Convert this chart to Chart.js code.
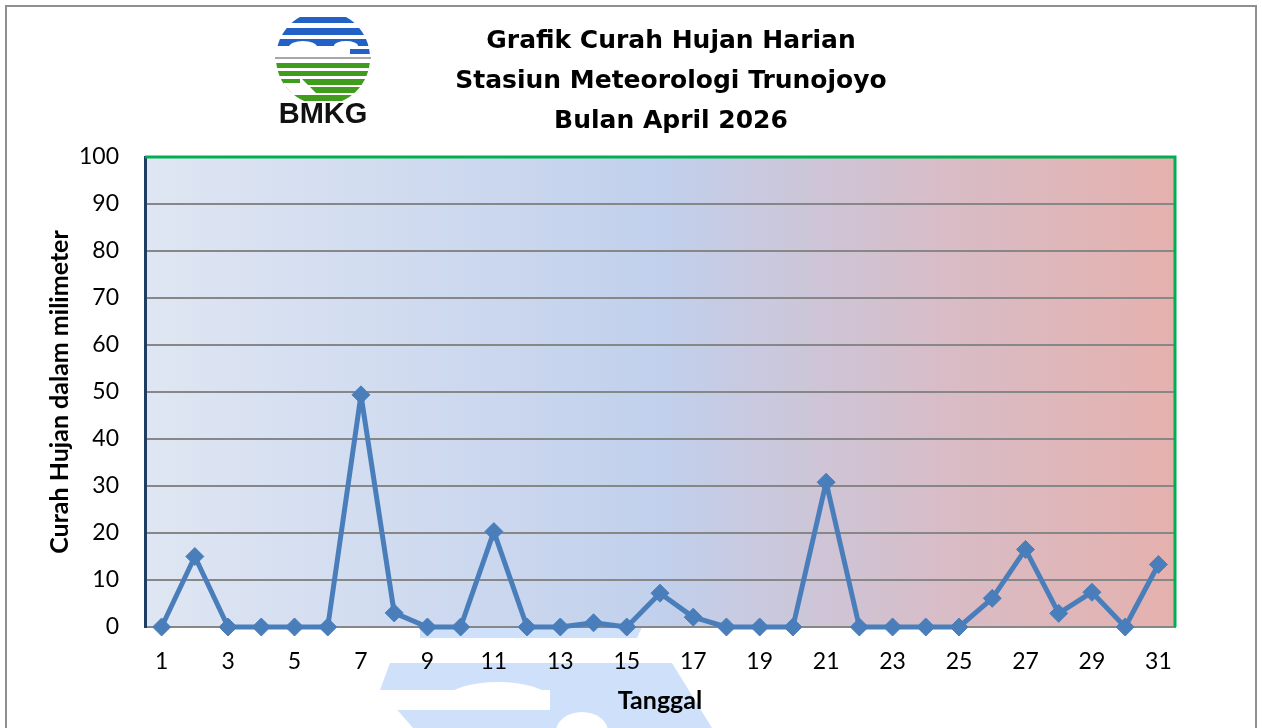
<!DOCTYPE html>
<html>
<head>
<meta charset="utf-8">
<title>Grafik Curah Hujan Harian</title>
<script src="https://cdn.jsdelivr.net/npm/chart.js@4.4.1/dist/chart.umd.min.js"></script>
<style>
  html, body { margin: 0; padding: 0; background: #ffffff; }
  #wrap { width: 1262px; height: 728px; position: relative; }
</style>
</head>
<body>
<div id="wrap"><canvas id="hujanChart" width="1262" height="728"></canvas></div>
<script>
// data
const tanggal = ["1","2","3","4","5","6","7","8","9","10","11","12","13","14","15","16",
  "17","18","19","20","21","22","23","24","25","26","27","28","29","30","31"];
const curahHujan = [0, 15, 0, 0, 0, 0, 49.4, 3, 0, 0, 20.3, 0, 0, 0.9, 0, 7.2,
  2.1, 0, 0, 0, 30.8, 0, 0, 0, 0, 6.1, 16.5, 2.9, 7.4, 0, 13.3];
const yTicks = [0, 10, 20, 30, 40, 50, 60, 70, 80, 90, 100];
const judul = ["Grafik Curah Hujan Harian", "Stasiun Meteorologi Trunojoyo", "Bulan April 2026"];

const LINE_BLUE = "#4a7ebb";
const GRID_GRAY = "#878787";

// logo + watermark + frame + title
const decorPlugin = {
  id: "decor",
  beforeDraw(chart) {
    const ctx = chart.ctx;
    ctx.save();
    ctx.fillStyle = "#ffffff";
    ctx.fillRect(0, 0, chart.width, chart.height);

    // faded logo watermark below the plot
    ctx.fillStyle = "#cfe1fa";
    ctx.beginPath();
    ctx.moveTo(420, 627); ctx.lineTo(642, 627); ctx.lineTo(637, 638); ctx.lineTo(420, 638);
    ctx.closePath(); ctx.fill();
    ctx.beginPath();
    ctx.moveTo(390, 663); ctx.lineTo(672, 663); ctx.lineTo(712, 728);
    ctx.lineTo(413, 728); ctx.lineTo(380, 690);
    ctx.closePath(); ctx.fill();
    ctx.fillStyle = "#ffffff";
    ctx.fillRect(360, 690, 190, 20);
    ctx.beginPath(); ctx.ellipse(498, 697, 49, 15, 0, Math.PI, 0); ctx.fill();
    ctx.beginPath(); ctx.ellipse(582, 732, 26, 20, 0, Math.PI, 0); ctx.fill();
    ctx.restore();

    // plot background gradient
    const a = chart.chartArea;
    const g = ctx.createLinearGradient(a.left, 0, a.right, 0);
    g.addColorStop(0, "#dfe6f3");
    g.addColorStop(0.5, "#c1d0ec");
    g.addColorStop(0.78, "#d8bcc6");
    g.addColorStop(1, "#e5b1ae");
    ctx.save();
    ctx.fillStyle = g;
    ctx.fillRect(a.left, a.top, a.right - a.left, a.bottom - a.top);
    ctx.restore();
  },
  afterDraw(chart) {
    const ctx = chart.ctx;
    const a = chart.chartArea;
    ctx.save();
    // outer frame
    ctx.strokeStyle = "#8f8f8f";
    ctx.lineWidth = 2;
    ctx.strokeRect(6, 6, 1250, 740);

    // green top / right border of plot
    ctx.strokeStyle = "#00b050";
    ctx.lineWidth = 3;
    ctx.beginPath();
    ctx.moveTo(a.left, a.top);
    ctx.lineTo(a.right, a.top);
    ctx.lineTo(a.right, a.bottom);
    ctx.stroke();

    // title
    ctx.fillStyle = "#000000";
    ctx.textAlign = "center";
    ctx.textBaseline = "middle";
    ctx.font = "bold 24px 'DejaVu Sans'";
    const w = ctx.measureText(judul[1]).width;
    const size = 24 * 432 / w;
    ctx.font = "bold " + size.toFixed(1) + "px 'DejaVu Sans'";
    judul.forEach((t, i) => ctx.fillText(t, 671, 41 + i * 40));

    // BMKG logo
    const cx = 323, cy = 58, r = 47;
    ctx.save();
    ctx.beginPath(); ctx.arc(cx, cy, r, 0, Math.PI * 2); ctx.clip();
    ctx.fillStyle = "#2262c6";
    [[17, 23], [28, 35], [39, 46]].forEach(b => ctx.fillRect(cx - r, b[0], 2 * r, b[1] - b[0]));
    ctx.fillRect(350, 49, 25, 5);
    ctx.fillStyle = "#ffffff";
    ctx.beginPath(); ctx.ellipse(303, 47, 14, 6, 0, Math.PI, 0); ctx.fill();
    ctx.beginPath(); ctx.ellipse(346, 46, 12, 5, 0, Math.PI, 0); ctx.fill();
    ctx.fillStyle = "#3f9c1c";
    [[63, 68], [71, 76], [79, 85], [87, 93], [95, 101]].forEach(b => ctx.fillRect(cx - r, b[0], 2 * r, b[1] - b[0]));
    ctx.fillStyle = "#ffffff";
    ctx.beginPath();
    ctx.moveTo(276, 77); ctx.lineTo(300, 77); ctx.lineTo(318, 95); ctx.lineTo(276, 95);
    ctx.closePath(); ctx.fill();
    ctx.fillStyle = "#3f9c1c";
    ctx.fillRect(276, 79, 24, 4);
    ctx.restore();
    ctx.strokeStyle = "#8a8a8a";
    ctx.lineWidth = 1.5;
    ctx.beginPath(); ctx.moveTo(275, 58); ctx.lineTo(371, 58); ctx.stroke();
    ctx.fillStyle = "#111111";
    ctx.font = "bold 29px 'Liberation Sans'";
    ctx.textBaseline = "alphabetic";
    ctx.fillText("BMKG", cx, 123);
    ctx.restore();
  }
};

window.addEventListener("DOMContentLoaded", () => {
  new Chart(document.getElementById("hujanChart"), {
    type: "line",
    data: {
      labels: tanggal,
      datasets: [{
        label: "Curah Hujan",
        data: curahHujan,
        borderColor: LINE_BLUE,
        backgroundColor: LINE_BLUE,
        borderWidth: 5,
        borderJoinStyle: "round",
        pointStyle: "rectRot",
        pointRadius: 9,
        pointHoverRadius: 9,
        pointBorderWidth: 1,
        pointBackgroundColor: LINE_BLUE,
        pointBorderColor: LINE_BLUE,
        tension: 0,
        clip: false
      }]
    },
    options: {
      responsive: false,
      animation: false,
      layout: { padding: { left: 20, top: 157, right: 87, bottom: 0 } },
      plugins: {
        legend: { display: false },
        tooltip: { enabled: false }
      },
      scales: {
        x: {
          offset: true,
          grid: { display: false, drawTicks: false },
          border: { display: true, color: GRID_GRAY, width: 2 },
          ticks: {
            autoSkip: false,
            maxRotation: 0,
            padding: 21,
            color: "#000000",
            font: { family: "Lato", size: 23 },
            callback: (v, i) => (i % 2 === 0 ? tanggal[i] : "")
          },
          title: {
            display: true,
            text: "Tanggal",
            color: "#000000",
            font: { family: "Lato", size: 25, weight: "bold" },
            padding: { top: 0, bottom: 12 }
          },
          afterFit: s => { s.height = 101; }
        },
        y: {
          min: 0,
          max: 100,
          afterBuildTicks: s => { s.ticks = yTicks.map(v => ({ value: v })); },
          grid: { color: GRID_GRAY, lineWidth: 2, drawTicks: false },
          border: { display: true, color: "#1f3d63", width: 3 },
          ticks: {
            padding: 26,
            color: "#000000",
            font: { family: "Lato", size: 23 }
          },
          title: {
            display: true,
            text: "Curah Hujan dalam milimeter",
            color: "#000000",
            font: { family: "Lato", size: 25, weight: "bold" },
            padding: { top: 25, bottom: 0 }
          },
          afterFit: s => { s.width = 125; }
        }
      }
    },
    plugins: [decorPlugin]
  });
});
</script>
</body>
</html>
